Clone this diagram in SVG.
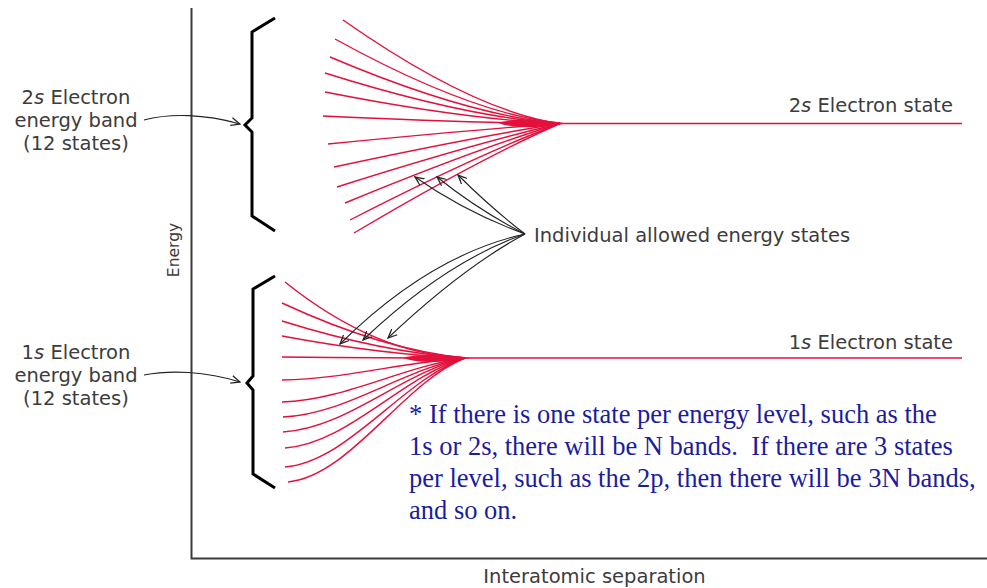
<svg xmlns="http://www.w3.org/2000/svg" width="987" height="588" viewBox="0 0 987 588">
<style>
.ax{stroke:#3a3a3a;stroke-width:2;fill:none}
.red{stroke:#e4103c;stroke-width:1.4;fill:none}
.blob{fill:#e4103c;stroke:none}
.brace{stroke:#000;stroke-width:3;fill:none;stroke-linejoin:miter}
.arr{stroke:#222;stroke-width:1.1;fill:none;marker-end:url(#ah)}
.lab{font-family:"DejaVu Sans",sans-serif;font-size:19.5px;fill:#3c3c3c}
.note{font-family:"Liberation Serif",serif;font-size:26.5px;fill:#1c1c9c}
</style>
<defs>
<marker id="ah" viewBox="0 0 10 10" refX="9" refY="5" markerWidth="10" markerHeight="10" markerUnits="userSpaceOnUse" orient="auto">
<path d="M0,1 L9,5 L0,9 M3,2.5 L9,5 L3,7.5" fill="none" stroke="#222" stroke-width="1.2"/>
</marker>
</defs>
<g id="axes">
<path class="ax" d="M191.5,8 V558.5 H987"/>
<text class="lab" text-anchor="middle" transform="translate(179,250) rotate(-90)" style="font-size:15.5px">Energy</text>
<text class="lab" x="594.5" y="583" text-anchor="middle">Interatomic separation</text>
</g>
<g id="band2s">
<path class="red" d="M343,20 Q473.2,111.1 560,123.5"/>
<path class="red" d="M335,39 Q470,113.4 560,123.5"/>
<path class="red" d="M330,57 Q468,115.5 560,123.5"/>
<path class="red" d="M325,73 Q466,117.4 560,123.5"/>
<path class="red" d="M325,92 Q466,119.7 560,123.5"/>
<path class="red" d="M323,116 Q465.2,122.6 560,123.5"/>
<path class="red" d="M328,144 Q467.2,130.3 560,123.5"/>
<path class="red" d="M334,167 Q469.6,137.9 560,123.5"/>
<path class="red" d="M337,187 Q470.8,144.5 560,123.5"/>
<path class="red" d="M345,203 Q474,149.7 560,123.5"/>
<path class="red" d="M350,220 Q476,155.3 560,123.5"/>
<path class="red" d="M354,233 Q477.6,159.6 560,123.5"/>
<path class="red" d="M540,123.5 H962" style="stroke-width:1.6"/>
<path class="blob" d="M498,123 Q520,116 567,123.5 Q520,131 498,123 Z"/>
</g>
<g id="band1s">
<path class="red" d="M285,282 Q375,354.2 465,358"/>
<path class="red" d="M282,303 Q382.6,349.75 465,358"/>
<path class="red" d="M282,321 Q382.6,352.45 465,358"/>
<path class="red" d="M282,336 Q382.6,354.7 465,358"/>
<path class="red" d="M282,357 Q382.6,358 465,358"/>
<path class="red" d="M282,380 C346,378.9 401,362.4 465,358"/>
<path class="red" d="M282,402 C346,399.8 401,366.8 465,358"/>
<path class="red" d="M283,417 C346.7,414 401.3,369.8 465,358"/>
<path class="red" d="M283,432 C346.7,428.3 401.3,372.8 465,358"/>
<path class="red" d="M285,448 C348,443.5 402,376 465,358"/>
<path class="red" d="M285,467 C348,461.6 402,379.8 465,358"/>
<path class="red" d="M288,482 C350,475.8 403,382.8 465,358"/>
<path class="red" d="M445,358 H962" style="stroke-width:1.6"/>
<path class="blob" d="M403,358 Q425,351 471,358 Q425,366 403,358 Z"/>
</g>
<g id="brace2s"><path class="brace" d="M275,18 L252,32 L252,118 L245,125 L252,132 L252,216 L275,231"/></g>
<g id="brace1s"><path class="brace" d="M275,276 L253,289 L253,376 L247,383 L253,390 L253,474 L275,488"/></g>
<g id="label2sband">
<text class="lab" text-anchor="middle" x="76" y="103.5">2<tspan font-style="italic">s</tspan> Electron</text>
<text class="lab" text-anchor="middle" x="76" y="127">energy band</text>
<text class="lab" text-anchor="middle" x="76" y="150">(12 states)</text>
</g>
<g id="label1sband">
<text class="lab" text-anchor="middle" x="76" y="359">1<tspan font-style="italic">s</tspan> Electron</text>
<text class="lab" text-anchor="middle" x="76" y="382">energy band</text>
<text class="lab" text-anchor="middle" x="76" y="405">(12 states)</text>
</g>
<g id="label2sstate"><text class="lab" text-anchor="end" x="953" y="112">2<tspan font-style="italic">s</tspan> Electron state</text></g>
<g id="label1sstate"><text class="lab" text-anchor="end" x="953" y="349">1<tspan font-style="italic">s</tspan> Electron state</text></g>
<g id="labelstates"><text class="lab" x="534" y="242">Individual allowed energy states</text></g>
<g id="note">
<text class="note" x="409" y="422.5">* If there is one state per energy level, such as the</text>
<text class="note" x="409" y="454.5" xml:space="preserve">1s or 2s, there will be N bands.  If there are 3 states</text>
<text class="note" x="409" y="486.5">per level, such as the 2p, then there will be 3N bands,</text>
<text class="note" x="409" y="518.5">and so on.</text>
</g>
<g id="connectors">
<path class="arr" d="M144,120 C170,113 205,114 240,124"/>
<path class="arr" d="M144,375 C170,370 205,371 240,382"/>
<path class="arr" d="M525,234 Q465,212 415,177"/>
<path class="arr" d="M525,234 Q478,210 437,177"/>
<path class="arr" d="M525,234 Q490,207 458,175"/>
<path class="arr" d="M525,234 Q430,255 340,344"/>
<path class="arr" d="M525,234 Q445,262 363,340"/>
<path class="arr" d="M525,234 Q462,268 388,338"/>
</g>
</svg>
